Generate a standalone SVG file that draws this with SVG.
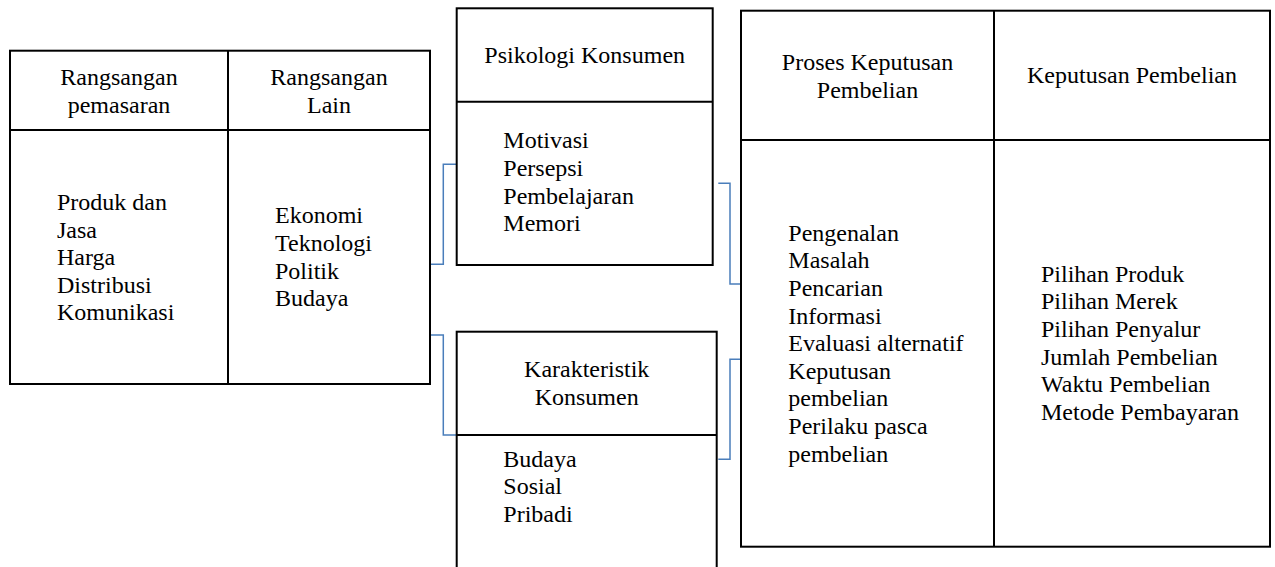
<svg xmlns="http://www.w3.org/2000/svg" width="1275" height="567" viewBox="0 0 1275 567">
<style>
.box{fill:#fff;stroke:#000;stroke-width:2}
.ln{stroke:#000;stroke-width:2;fill:none}
.t{font-family:'Liberation Serif','Times New Roman',Tinos,'DejaVu Serif',serif;font-size:24px;fill:#000}
.c{text-anchor:middle}
.con{fill:none;stroke:#4a7ebb;stroke-width:1.5}
</style>
<rect width="1275" height="567" fill="#fff"/>
<g id="connectors">
<polyline class="con" points="430,264.3 443.3,264.3 443.3,164.3 456.7,164.3"/>
<polyline class="con" points="430,335 443.3,335 443.3,435 456.7,435"/>
<polyline class="con" points="718.3,183.3 730,183.3 730,284 741,284"/>
<polyline class="con" points="718.3,459.3 730,459.3 730,359.3 741,359.3"/>
</g>
<g id="rangsangan">
<rect class="box" x="10" y="50.7" width="420" height="333.3"/>
<line class="ln" x1="228" y1="50.7" x2="228" y2="384"/>
<line class="ln" x1="10" y1="130" x2="430" y2="130"/>
<text class="t c" x="119" y="85">Rangsangan</text>
<text class="t c" x="119" y="112.6">pemasaran</text>
<text class="t c" x="329" y="85">Rangsangan</text>
<text class="t c" x="329" y="112.6">Lain</text>
<text class="t" x="57" y="210">Produk dan</text>
<text class="t" x="57" y="237.6">Jasa</text>
<text class="t" x="57" y="265.2">Harga</text>
<text class="t" x="57" y="292.8">Distribusi</text>
<text class="t" x="57" y="320.4">Komunikasi</text>
<text class="t" x="275" y="223.3">Ekonomi</text>
<text class="t" x="275" y="250.9">Teknologi</text>
<text class="t" x="275" y="278.5">Politik</text>
<text class="t" x="275" y="306.1">Budaya</text>
</g>
<g id="psikologi">
<rect class="box" x="456.7" y="8.3" width="256" height="256.7"/>
<line class="ln" x1="456.7" y1="101.7" x2="712.7" y2="101.7"/>
<text class="t c" x="584.7" y="63.3">Psikologi Konsumen</text>
<text class="t" x="503.3" y="148.3">Motivasi</text>
<text class="t" x="503.3" y="175.9">Persepsi</text>
<text class="t" x="503.3" y="203.5">Pembelajaran</text>
<text class="t" x="503.3" y="231.1">Memori</text>
</g>
<g id="karakteristik">
<rect class="box" x="456.7" y="331.7" width="260" height="260"/>
<line class="ln" x1="456.7" y1="435" x2="716.7" y2="435"/>
<text class="t c" x="586.7" y="377.3">Karakteristik</text>
<text class="t c" x="586.7" y="404.9">Konsumen</text>
<text class="t" x="503.3" y="466.7">Budaya</text>
<text class="t" x="503.3" y="494.3">Sosial</text>
<text class="t" x="503.3" y="521.9">Pribadi</text>
</g>
<g id="keputusan">
<rect class="box" x="741" y="10.7" width="529" height="536"/>
<line class="ln" x1="994" y1="10.7" x2="994" y2="546.7"/>
<line class="ln" x1="741" y1="140" x2="1270" y2="140"/>
<text class="t c" x="867.5" y="70">Proses Keputusan</text>
<text class="t c" x="867.5" y="97.6">Pembelian</text>
<text class="t c" x="1132" y="83.3">Keputusan Pembelian</text>
<text class="t" x="788.3" y="240.7">Pengenalan</text>
<text class="t" x="788.3" y="268.3">Masalah</text>
<text class="t" x="788.3" y="295.9">Pencarian</text>
<text class="t" x="788.3" y="323.5">Informasi</text>
<text class="t" x="788.3" y="351.1">Evaluasi alternatif</text>
<text class="t" x="788.3" y="378.7">Keputusan</text>
<text class="t" x="788.3" y="406.3">pembelian</text>
<text class="t" x="788.3" y="433.9">Perilaku pasca</text>
<text class="t" x="788.3" y="461.5">pembelian</text>
<text class="t" x="1041" y="281.7">Pilihan Produk</text>
<text class="t" x="1041" y="309.3">Pilihan Merek</text>
<text class="t" x="1041" y="336.9">Pilihan Penyalur</text>
<text class="t" x="1041" y="364.5">Jumlah Pembelian</text>
<text class="t" x="1041" y="392.1">Waktu Pembelian</text>
<text class="t" x="1041" y="419.7">Metode Pembayaran</text>
</g>
</svg>
